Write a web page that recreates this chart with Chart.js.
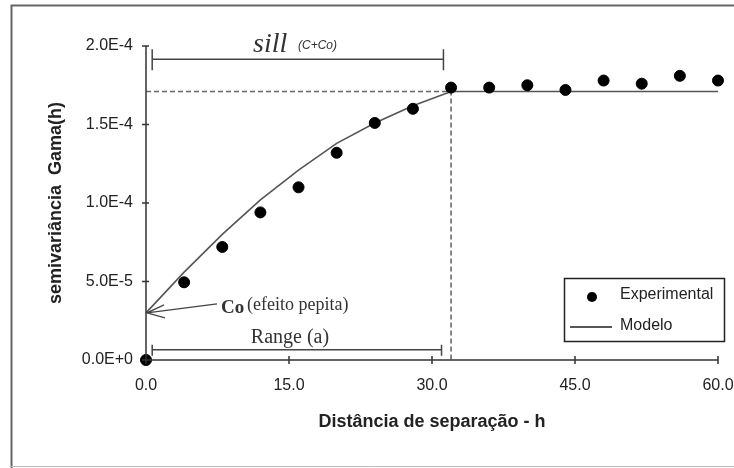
<!DOCTYPE html>
<html>
<head>
<meta charset="utf-8">
<script src="https://cdn.jsdelivr.net/npm/chart.js@4/dist/chart.umd.min.js"></script>
<style>
  html, body { margin: 0; padding: 0; background: #fff; }
  canvas { display: block; }
</style>
</head>
<body>
<canvas id="chart1" width="734" height="468"></canvas>
<script>
// distance (h) and semivariance
const expDist = [0, 4, 8, 12, 16, 20, 24, 28, 32, 36, 40, 44, 48, 52, 56, 60];
const expGamma = [0, 4.95e-5, 7.2e-5, 9.4e-5, 1.1e-4, 1.32e-4, 1.51e-4, 1.6e-4,
  1.735e-4, 1.735e-4, 1.75e-4, 1.72e-4, 1.78e-4, 1.76e-4, 1.81e-4, 1.78e-4];

const modelDist = [0, 4, 8, 12, 16, 20, 24, 28, 32, 60];
const modelGamma = [3.0e-5, 5.6e-5, 8.0e-5, 1.02e-4, 1.21e-4, 1.38e-4, 1.51e-4, 1.62e-4, 1.71e-4, 1.71e-4];

const nugget = 3.0e-5;   // Co
const sill = 1.71e-4;    // C + Co
const range = 32;        // a

const xTicks = [0, 15, 30, 45, 60];
const yTicks = [0, 5e-5, 1e-4, 1.5e-4, 2e-4];

const ctx = document.getElementById('chart1').getContext('2d');

const toPoints = (xs, ys) => xs.map((x, i) => ({ x: x, y: ys[i] }));

// frame, axes, brackets, arrow, legend
const decor = {
  id: 'decor',
  beforeDraw(chart) {
    const c = chart.ctx;
    c.save();
    c.fillStyle = '#fff';
    c.fillRect(0, 0, chart.width, chart.height);
    c.strokeStyle = '#666';
    c.lineWidth = 2;
    c.beginPath();
    c.moveTo(11.5, 468);
    c.lineTo(11.5, 5.5);
    c.lineTo(734, 5.5);
    c.stroke();
    c.strokeStyle = '#bbb';
    c.lineWidth = 1;
    c.beginPath();
    c.moveTo(11, 466.5);
    c.lineTo(734, 466.5);
    c.stroke();
    c.restore();
  },
  afterDraw(chart) {
    const c = chart.ctx;
    const xs = chart.scales.x, ys = chart.scales.y;
    const a = chart.chartArea;
    c.save();
    c.strokeStyle = '#333';
    c.lineWidth = 1.5;
    // axes
    c.beginPath();
    c.moveTo(a.left, a.top);
    c.lineTo(a.left, a.bottom);
    c.lineTo(a.right, a.bottom);
    yTicks.forEach(v => {
      const p = ys.getPixelForValue(v);
      c.moveTo(a.left - 4, p);
      c.lineTo(a.left + 3, p);
    });
    xTicks.forEach(v => {
      const p = xs.getPixelForValue(v);
      c.moveTo(p, a.bottom - 4);
      c.lineTo(p, a.bottom + 4);
    });
    c.stroke();

    // sill bracket
    c.strokeStyle = '#444';
    c.lineWidth = 1.5;
    const sy = ys.getPixelForValue(1.915e-4);
    const sx0 = xs.getPixelForValue(0.65), sx1 = xs.getPixelForValue(31.2);
    c.beginPath();
    c.moveTo(sx0, sy); c.lineTo(sx1, sy);
    c.moveTo(sx0, sy - 10); c.lineTo(sx0, sy + 11);
    c.moveTo(sx1, sy - 10); c.lineTo(sx1, sy + 11);
    c.stroke();

    // range bracket
    const ry = ys.getPixelForValue(0.65e-5);
    const rx0 = xs.getPixelForValue(0.65), rx1 = xs.getPixelForValue(31.0);
    c.beginPath();
    c.moveTo(rx0, ry); c.lineTo(rx1, ry);
    c.moveTo(rx0, ry - 5); c.lineTo(rx0, ry + 6);
    c.moveTo(rx1, ry - 5); c.lineTo(rx1, ry + 6);
    c.stroke();

    // nugget arrow
    const tipX = xs.getPixelForValue(0) + 1, tipY = ys.getPixelForValue(nugget);
    c.lineWidth = 1.3;
    c.beginPath();
    c.moveTo(tipX + 70, tipY - 9);
    c.lineTo(tipX, tipY);
    c.moveTo(tipX + 17, tipY - 8);
    c.lineTo(tipX, tipY);
    c.lineTo(tipX + 18, tipY + 5);
    c.stroke();

    // texts
    c.fillStyle = '#333';
    c.textBaseline = 'alphabetic';
    c.textAlign = 'left';
    c.font = 'italic 28px "Liberation Serif"';
    c.fillText('sill', 253, 52);
    c.font = 'italic 12px "Liberation Sans"';
    c.fillText('(C+Co)', 298, 49);
    c.font = 'bold 19px "Liberation Serif"';
    c.fillText('Co', 221, 313);
    c.font = '18px "Liberation Serif"';
    c.fillText('(efeito pepita)', 247, 310);
    c.font = '20px "Liberation Serif"';
    c.textAlign = 'center';
    c.fillText('Range (a)', 290, 343);

    // legend
    c.strokeStyle = '#222';
    c.lineWidth = 1.5;
    c.strokeRect(564.5, 278.5, 160, 63);
    c.fillStyle = '#000';
    c.beginPath();
    c.arc(592, 297, 5, 0, Math.PI * 2);
    c.fill();
    c.strokeStyle = '#555';
    c.lineWidth = 2;
    c.beginPath();
    c.moveTo(570, 327); c.lineTo(612, 327);
    c.stroke();
    c.fillStyle = '#222';
    c.textAlign = 'left';
    c.textBaseline = 'middle';
    c.font = '16px "Liberation Sans"';
    c.fillText('Experimental', 620, 295);
    c.fillText('Modelo', 620, 326);
    c.restore();
  }
};

new Chart(ctx, {
  type: 'scatter',
  plugins: [decor],
  data: {
    datasets: [{
      label: 'Experimental',
      data: toPoints(expDist, expGamma),
      backgroundColor: '#000',
      borderColor: '#000',
      pointRadius: 5.5,
      showLine: false,
      clip: false,
      order: 0
    }, {
      label: 'Modelo',
      type: 'line',
      data: toPoints(modelDist, modelGamma),
      borderColor: '#555',
      borderWidth: 1.6,
      pointRadius: 0,
      fill: false,
      clip: false,
      order: 1
    }, {
      label: 'sill/range',
      type: 'line',
      data: [{ x: 0, y: sill }, { x: range, y: sill }, { x: range, y: 0 }],
      borderColor: '#666',
      borderWidth: 1.6,
      borderDash: [5, 3],
      pointRadius: 0,
      fill: false,
      clip: false,
      order: 2
    }]
  },
  options: {
    responsive: false,
    animation: false,
    layout: { padding: { left: 0, right: 16, top: 46, bottom: 0 } },
    plugins: {
      legend: { display: false },
      tooltip: { enabled: false }
    },
    scales: {
      x: {
        type: 'linear',
        min: 0,
        max: 60,
        afterFit: s => { s.height = 108; s.paddingLeft = 0; s.paddingRight = 0; },
        afterBuildTicks: s => { s.ticks = xTicks.map(v => ({ value: v })); },
        grid: { display: false, drawTicks: false },
        border: { display: false },
        ticks: {
          padding: 16,
          color: '#222',
          font: { family: 'Liberation Sans', size: 16 },
          maxRotation: 0,
          callback: v => v.toFixed(1)
        },
        title: {
          display: true,
          text: 'Distância de separação - h',
          color: '#222',
          font: { family: 'Liberation Sans', size: 18, weight: 'bold' },
          padding: { top: 0, bottom: 35 }
        }
      },
      y: {
        min: 0,
        max: 2e-4,
        afterFit: s => { s.width = 146; s.paddingTop = 0; s.paddingBottom = 0; },
        afterBuildTicks: s => { s.ticks = yTicks.map(v => ({ value: v })); },
        grid: { display: false, drawTicks: false },
        border: { display: false },
        ticks: {
          padding: 13,
          color: '#222',
          font: { family: 'Liberation Sans', size: 16 },
          callback: v => v.toExponential(1).toUpperCase()
        },
        title: {
          display: true,
          text: 'semivariância  Gama(h)',
          color: '#222',
          font: { family: 'Liberation Sans', size: 18, weight: 'bold' },
          padding: { top: 45, bottom: 0 }
        }
      }
    }
  }
});
</script>
</body>
</html>
